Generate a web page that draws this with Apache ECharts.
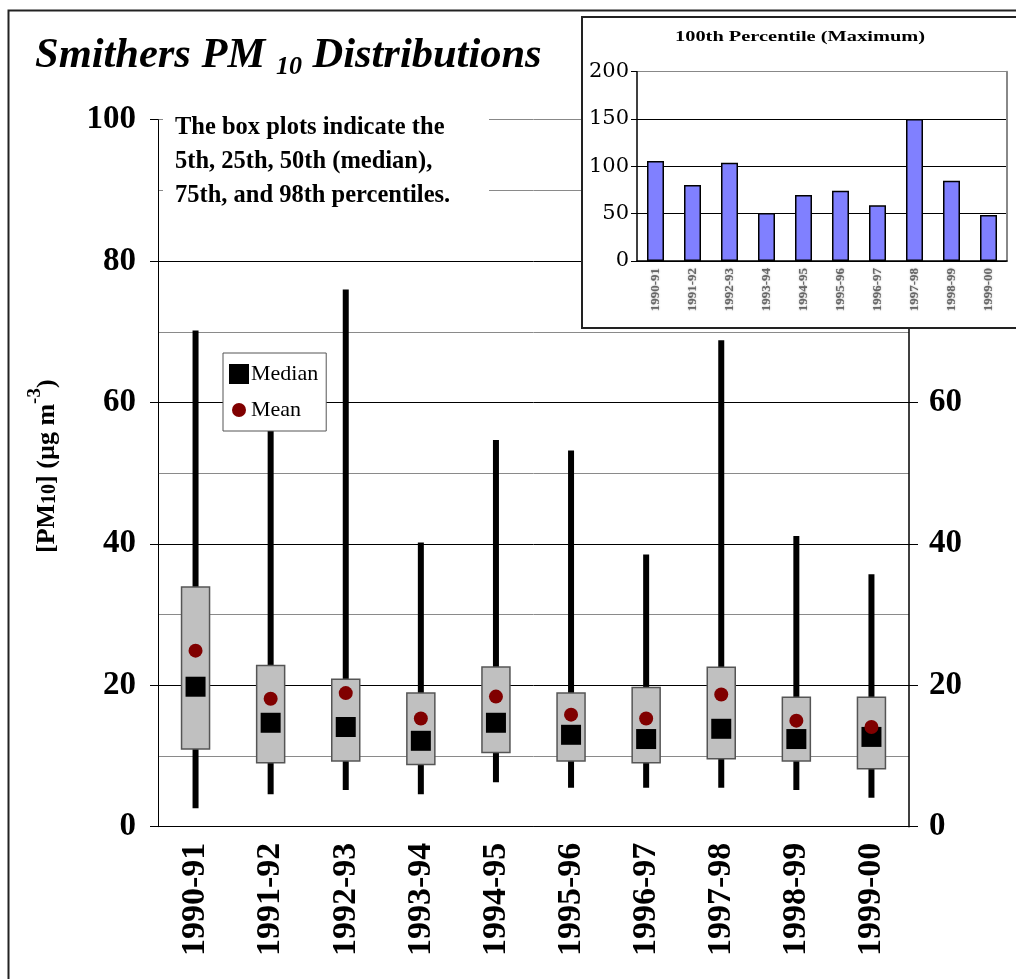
<!DOCTYPE html>
<html>
<head>
<meta charset="utf-8">
<script src="https://cdn.jsdelivr.net/npm/echarts@6/dist/echarts.min.js"></script>
<style>
  html, body { margin: 0; padding: 0; background: #fff; }
  #chart { width: 1016px; height: 979px; }
</style>
</head>
<body>
<div id="chart"></div>
<script>
// Seasonal PM10 statistics, Smithers (µg m-3)
const categories = ['1990-91', '1991-92', '1992-93', '1993-94', '1994-95',
                    '1995-96', '1996-97', '1997-98', '1998-99', '1999-00'];
const p5   = [2.6, 4.6, 5.2, 4.6, 6.3, 5.5, 5.5, 5.5, 5.2, 4.1];
const p25  = [11.0, 9.05, 9.3, 8.8, 10.5, 9.3, 9.05, 9.6, 9.3, 8.2];
const p50  = [19.8, 14.7, 14.1, 12.15, 14.7, 13.0, 12.4, 13.85, 12.4, 12.7];
const p75  = [33.9, 22.8, 20.85, 18.9, 22.6, 18.9, 19.7, 22.55, 18.3, 18.3];
const p98  = [70.2, 62.0, 76.0, 40.2, 54.7, 53.2, 38.5, 68.8, 41.1, 35.7];
const mean = [24.9, 18.1, 18.9, 15.3, 18.4, 15.85, 15.3, 18.7, 15.0, 14.1];
const maxima = [105.7, 80.3, 103.9, 50.7, 69.8, 74.3, 58.9, 150.1, 84.9, 48.6];
const mainTicks = [0, 20, 40, 60, 80, 100];
const insetTicks = [0, 50, 100, 150, 200];

const SERIF = '"Liberation Serif", "Times New Roman", Times, serif';
const WIDE_SERIF = '"DejaVu Serif", "Liberation Serif", serif';

const chart = echarts.init(document.getElementById('chart'), null, { renderer: 'canvas' });

const boxData = categories.map((c, i) => [i, p5[i], p25[i], p75[i], p98[i]]);

// whisker (5th–98th) as a thick bar, box (25th–75th) drawn over it
function renderBox(params, api) {
  const idx = api.value(0);
  const lo = api.coord([idx, api.value(1)]);
  const q1 = api.coord([idx, api.value(2)]);
  const q3 = api.coord([idx, api.value(3)]);
  const hi = api.coord([idx, api.value(4)]);
  const boxW = 28, whiskW = 6;
  return {
    type: 'group',
    children: [
      { type: 'rect', shape: { x: lo[0] - whiskW / 2, y: hi[1], width: whiskW, height: lo[1] - hi[1] },
        style: { fill: '#000' } },
      { type: 'rect', shape: { x: q3[0] - boxW / 2, y: q3[1], width: boxW, height: q1[1] - q3[1] },
        style: { fill: '#c0c0c0', stroke: '#555', lineWidth: 1.5 } }
    ]
  };
}

const option = {
  animation: false,
  backgroundColor: '#fff',
  textStyle: { fontFamily: SERIF },
  grid: [
    { left: 158, right: 107, top: 119.7, bottom: 152.3, show: false },
    { left: 637, right: 9, top: 71.7, bottom: 718, show: false, z: 6 }
  ],
  legend: {
    orient: 'vertical',
    left: 223, top: 353,
    padding: [10, 8, 10, 6],
    itemGap: 14,
    itemWidth: 20, itemHeight: 20,
    backgroundColor: '#fff',
    borderColor: '#555', borderWidth: 1,
    textStyle: { fontFamily: SERIF, fontSize: 22, color: '#000', padding: [0, 0, 0, -3] },
    data: [
      { name: 'Median', icon: 'rect' },
      { name: 'Mean', icon: 'path://M0 0M20 20M17 10A7 7 0 1 1 3 10A7 7 0 1 1 17 10Z' }
    ],
    z: 8
  },
  xAxis: [
    {
      type: 'category', gridIndex: 0, data: categories,
      axisLine: { lineStyle: { color: '#000', width: 1 } },
      axisTick: { length: 9, lineStyle: { color: '#000' } },
      axisLabel: { rotate: 90, margin: 16, fontFamily: SERIF, fontSize: 34, fontWeight: 'bold', color: '#000' }
    },
    {
      type: 'category', gridIndex: 1, data: categories, z: 6,
      axisLine: { lineStyle: { color: '#000', width: 1.5 } },
      axisTick: { length: 6, lineStyle: { color: '#000' } },
      axisLabel: { rotate: 90, margin: 7, fontFamily: SERIF, fontSize: 13, fontWeight: 'bold', color: '#666',
                   textShadowColor: 'rgba(0,0,0,0.35)', textShadowBlur: 2 }
    }
  ],
  yAxis: [
    {
      type: 'value', gridIndex: 0, min: 0, max: 100, interval: 20, position: 'left',
      name: '{b|[PM}{s|10}{b|] (µg m}{sup|-3}{b|)}',
      nameLocation: 'middle', nameGap: 98,
      nameTextStyle: {
        padding: [0, 0, 0, 14],
        rich: {
          b: { fontFamily: SERIF, fontSize: 26, fontWeight: 'bold', color: '#000', lineHeight: 34, verticalAlign: 'bottom' },
          s: { fontFamily: SERIF, fontSize: 20, fontWeight: 'bold', color: '#000', lineHeight: 30, verticalAlign: 'bottom' },
          sup: { fontFamily: SERIF, fontSize: 19, fontWeight: 'bold', color: '#000', lineHeight: 34, verticalAlign: 'top' }
        }
      },
      axisLine: { show: true, lineStyle: { color: '#000', width: 1 } },
      axisTick: { show: true, length: 8, lineStyle: { color: '#000' } },
      axisLabel: { margin: 22, fontFamily: SERIF, fontSize: 33, fontWeight: 'bold', color: '#000',
                   formatter: v => (mainTicks.includes(v) ? String(v) : '') },
      splitLine: { show: true, lineStyle: { color: ['#000', '#000', '#000', '#000', '#000', '#888'], width: 1 } },
      minorTick: { show: false, splitNumber: 2 },
      minorSplitLine: { show: true, lineStyle: { color: '#8a8a8a', width: 1 } }
    },
    {
      type: 'value', gridIndex: 0, min: 0, max: 100, interval: 20, position: 'right',
      axisLine: { show: true, lineStyle: { color: '#000', width: 1.5 } },
      axisTick: { show: true, length: 9, lineStyle: { color: '#000' } },
      axisLabel: { margin: 20, fontFamily: SERIF, fontSize: 33, fontWeight: 'bold', color: '#000' },
      splitLine: { show: false }
    },
    {
      type: 'value', gridIndex: 1, min: 0, max: 200, interval: 50, position: 'left', z: 6,
      axisLine: { show: true, lineStyle: { color: '#000', width: 1.5 } },
      axisTick: { show: true, length: 6, lineStyle: { color: '#000' } },
      axisLabel: { margin: 8, fontFamily: WIDE_SERIF, fontSize: 21, color: '#000',
                   formatter: v => (insetTicks.includes(v) ? String(v) : '') },
      splitLine: { show: true, lineStyle: { color: ['#000', '#000', '#000', '#000', '#888'], width: 1 } }
    },
    {
      type: 'value', gridIndex: 1, min: 0, max: 200, interval: 50, position: 'right', z: 6,
      axisLine: { show: true, lineStyle: { color: '#888', width: 2 } },
      axisTick: { show: false }, axisLabel: { show: false }, splitLine: { show: false }
    }
  ],
  graphic: [
    // outer frame
    { type: 'rect', left: 6, top: 8, z: 0, silent: true,
      shape: { width: 1030, height: 1000 }, style: { fill: 'none', stroke: '#222', lineWidth: 2 } },
    // title
    { type: 'text', left: 35, top: 35, z: 10,
      style: {
        text: '{a|Smithers PM }{s|10}{a| Distributions}',
        rich: {
          a: { fontFamily: SERIF, fontSize: 42.5, fontWeight: 'bold', fontStyle: 'italic', fill: '#000', lineHeight: 48 },
          s: { fontFamily: SERIF, fontSize: 26, fontWeight: 'bold', fontStyle: 'italic', fill: '#000', lineHeight: 24, verticalAlign: 'bottom' }
        }
      } },
    // explanatory note on a white panel
    { type: 'rect', left: 163, top: 104, z: 5, silent: true,
      shape: { width: 326, height: 108 }, style: { fill: '#fff' } },
    { type: 'text', left: 175, top: 111, z: 6,
      style: { text: 'The box plots indicate the\n5th, 25th, 50th (median),\n75th, and 98th percentiles.',
               fontFamily: SERIF, fontSize: 24.5, fontWeight: 'bold', fill: '#000', lineHeight: 34 } },
    // inset panel
    { type: 'rect', left: 581, top: 16, z: 5, silent: true,
      shape: { width: 460, height: 311 }, style: { fill: '#fff', stroke: '#222', lineWidth: 2 } },
    { type: 'text', left: 675, top: 30, z: 10, scaleX: 1.36,
      style: { text: '100th Percentile (Maximum)', fontFamily: SERIF, fontSize: 15, fontWeight: 'bold', fill: '#000' } }
  ],
  series: [
    { type: 'custom', name: 'Range', xAxisIndex: 0, yAxisIndex: 0, renderItem: renderBox,
      encode: { x: 0, y: [1, 2, 3, 4] }, data: boxData, z: 2 },
    { type: 'scatter', name: 'Median', xAxisIndex: 0, yAxisIndex: 0, symbol: 'rect', symbolSize: 20,
      itemStyle: { color: '#000', opacity: 1 }, data: p50, z: 3 },
    { type: 'scatter', name: 'Mean', xAxisIndex: 0, yAxisIndex: 0, symbol: 'circle', symbolSize: 14,
      itemStyle: { color: '#800000', opacity: 1 }, data: mean, z: 4 },
    { type: 'bar', name: 'Maximum', xAxisIndex: 1, yAxisIndex: 2, data: maxima, barWidth: 17, z: 7,
      itemStyle: { color: '#8080ff', borderColor: '#000', borderWidth: 1.5 } }
  ]
};

chart.setOption(option);
</script>
</body>
</html>
